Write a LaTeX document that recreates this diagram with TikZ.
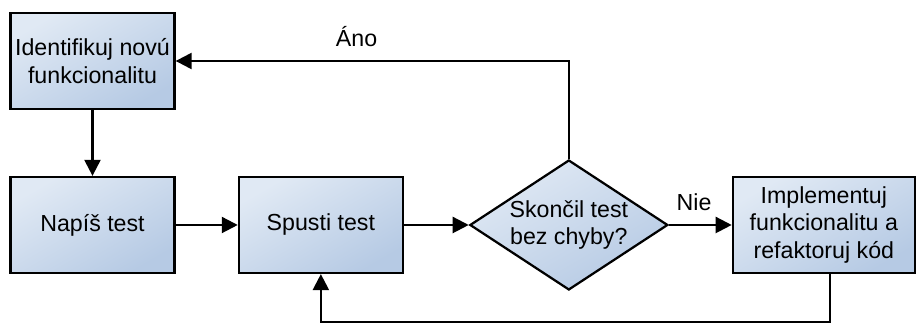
\documentclass[tikz,border=0pt]{standalone}
\usepackage{fontspec}
\setmainfont{Liberation Sans}
\usetikzlibrary{shapes,arrows.meta}
\definecolor{boxtop}{RGB}{224,233,244}
\definecolor{boxbottom}{RGB}{182,202,228}
\tikzstyle{krok} = [rectangle, minimum width=4.1cm, minimum height=2.4cm, text centered, align=center, draw=black, line width=1.6pt, top color=boxtop, bottom color=boxbottom, shading angle=30]
\tikzstyle{otazka} = [diamond, shape aspect=1.52, minimum width=4.95cm, minimum height=3.25cm, inner sep=-0.1cm, text centered, align=center, draw=black, line width=1.6pt, top color=boxtop, bottom color=boxbottom, shading angle=30]
\tikzstyle{sipka} = [-{Triangle[length=0.4cm, width=0.4cm]}, line width=1.6pt]

\begin{document}
\begin{tikzpicture}[node distance = 4.1cm, font=\fontsize{16.5}{19.8}\selectfont]
		\useasboundingbox (-2.3125,-2.475) rectangle (20.59,5.625);
		\node[krok](napis){Napíš test};
		\node[krok,above of=napis](ident){Identifikuj novú\\funkcionalitu};
		\node[krok,right of=napis, xshift=1.61cm](spusti){Spusti test};
		\node[otazka,right of=spusti, xshift=2.1cm](skoncil){Skončil test\\bez chyby?};
		\node[krok,right of=skoncil, xshift=2.275cm, minimum width=4.55cm](impl){Implementuj\\funkcionalitu a\\refaktoruj kód};
		\coordinate[below of=spusti, node distance=2.425cm](dole);
		
		\draw[sipka](ident)--(napis);
		\draw[sipka](napis)--(spusti);
		\draw[sipka](spusti)--(skoncil);
		\draw[sipka](skoncil)--node[pos=0.4, above=0.2cm]{Nie}(impl);
		\draw[sipka](skoncil.north)|-node[pos=0.77, above=0.2cm]{Áno}(ident.east);
		\draw[sipka]([xshift=0.15cm]impl.south)|-(dole)--(spusti.south);
	\end{tikzpicture}
\end{document}
